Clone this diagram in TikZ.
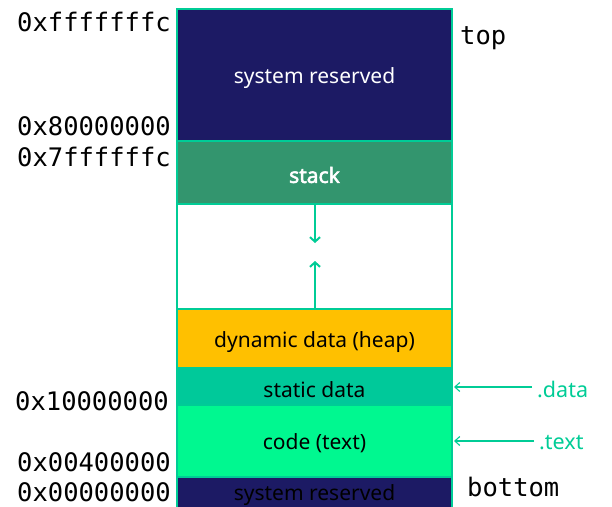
\documentclass[tikz,border=0pt]{standalone}
\usepackage{fontspec}
\setmainfont{Noto Sans}
\newfontfamily\monof{DejaVu Sans Mono}
\newfontfamily\boldf{Noto Sans}[FakeBold=2.5]
\usetikzlibrary{arrows.meta}
\definecolor{navy}{HTML}{1C1A64}
\definecolor{stackc}{HTML}{33956E}
\definecolor{heapc}{HTML}{FFC000}
\definecolor{staticc}{HTML}{00C99A}
\definecolor{codec}{HTML}{00F890}
\definecolor{edge}{HTML}{00CC96}
\tikzset{
  seg/.style={draw=edge, line width=2pt},
  lbl/.style={font=\fontsize{21}{25}\selectfont},
  addr/.style={font=\monof\fontsize{25.5}{30}\selectfont, anchor=west, inner sep=0pt},
  sidelbl/.style={font=\fontsize{21.5}{25}\selectfont, text=edge, anchor=west, inner sep=0pt},
  ptr/.style={draw=edge, line width=1.1pt, -{Straight Barb[length=5pt,width=9pt]}},
  growarrow/.style={draw=edge, line width=2pt, -{Straight Barb[length=4.5pt,width=10pt,line width=2pt]}}
}
\begin{document}
\begin{tikzpicture}[x=1pt,y=-1pt]
\useasboundingbox (0,0) rectangle (612,506);
\begin{scope}
\clip (0,0) rectangle (612,506);
\draw[seg, fill=navy] (177,9) rectangle (452,141);
\draw[seg, fill=stackc] (177,141) rectangle (452,204);
\draw[seg, fill=white] (177,204) rectangle (452,309);
\draw[seg, fill=heapc] (177,309) rectangle (452,368);
\draw[seg, fill=staticc] (177,368) rectangle (452,405);
\draw[seg, fill=codec] (177,405) rectangle (452,477);
\draw[seg, fill=navy] (177,477) rectangle (452,520);
\node[lbl, text=white] (sr1) at (314.5,78) {system reserved};
\node[text=white, font=\boldf\fontsize{21}{25}\selectfont] (stk) at (314.5,175) {stack};
\node[lbl] (heap) at (314.5,342) {dynamic data (heap)};
\node[lbl] (stat) at (314.5,390) {static data};
\node[lbl] (code) at (314.5,443) {code (text)};
\node[lbl, text=black] (sr2) at (314.5,495.5) {system reserved};
\end{scope}
\coordinate (stkb) at (315,204);
\coordinate (stkt) at (315,243);
\coordinate (hpt) at (315,309);
\coordinate (hpb) at (315,261);
\draw[growarrow] (stkb) -- (stkt);
\draw[growarrow] (hpt) -- (hpb);
\node[addr] (a1) at (17,22) {0xfffffffc};
\node[addr] (a2) at (17,126) {0x80000000};
\node[addr] (a3) at (17,157) {0x7ffffffc};
\node[addr] (a4) at (15,401) {0x10000000};
\node[addr] (a5) at (17,462) {0x00400000};
\node[addr] (a6) at (17,492) {0x00000000};
\node[addr] (top) at (460,38) {top};
\node[addr] (bot) at (467,487) {bottom};
\node[sidelbl] (dl) at (537,389) {.data};
\node[sidelbl] (tl) at (539,443) {.text};
\coordinate (dstart) at (532,387);
\coordinate (dend) at (454,387);
\coordinate (tstart) at (534,441);
\coordinate (tend) at (454,441);
\draw[ptr] (dstart) -- (dend);
\draw[ptr] (tstart) -- (tend);
\end{tikzpicture}
\end{document}
